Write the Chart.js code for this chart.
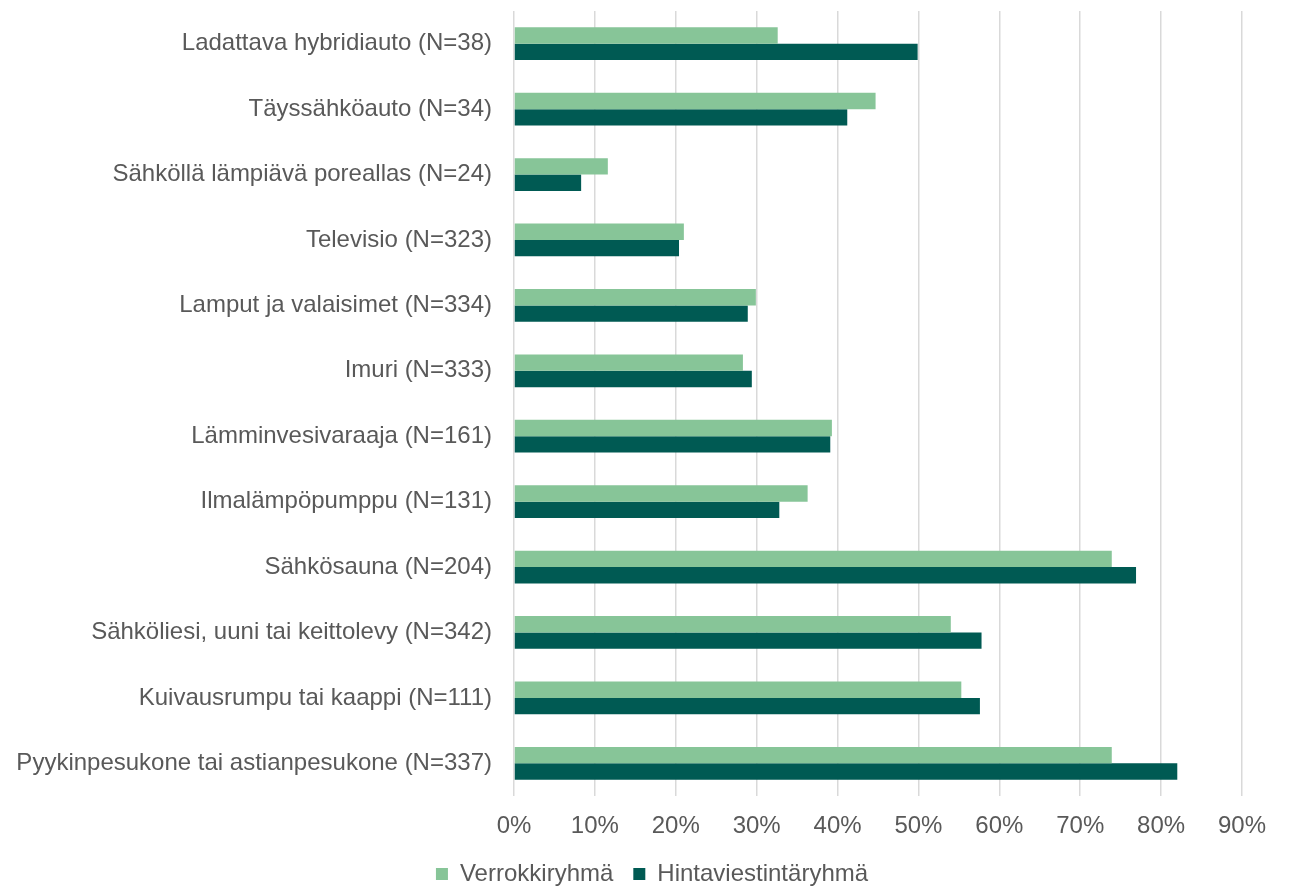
<!DOCTYPE html>
<html>
<head>
<meta charset="utf-8">
<script src="https://cdn.jsdelivr.net/npm/chart.js@4"></script>
<style>
  html, body { margin: 0; padding: 0; background: #ffffff; }
  #wrap { width: 1291px; height: 888px; }
</style>
</head>
<body>
<div id="wrap"><canvas id="c" width="1291" height="888"></canvas></div>
<script>
const categories = [
  "Ladattava hybridiauto (N=38)",
  "Täyssähköauto (N=34)",
  "Sähköllä lämpiävä poreallas (N=24)",
  "Televisio (N=323)",
  "Lamput ja valaisimet (N=334)",
  "Imuri (N=333)",
  "Lämminvesivaraaja (N=161)",
  "Ilmalämpöpumppu (N=131)",
  "Sähkösauna (N=204)",
  "Sähköliesi, uuni tai keittolevy (N=342)",
  "Kuivausrumpu tai kaappi (N=111)",
  "Pyykinpesukone tai astianpesukone (N=337)"
];
const seriesNames = ["Verrokkiryhmä", "Hintaviestintäryhmä"];
const verrokki = [32.6, 44.7, 11.6, 21.0, 29.9, 28.3, 39.3, 36.3, 73.9, 54.0, 55.3, 73.9];
const hinta    = [49.9, 41.2, 8.3, 20.4, 28.9, 29.4, 39.1, 32.8, 76.9, 57.8, 57.6, 82.0];
const xTicks = [0, 10, 20, 30, 40, 50, 60, 70, 80, 90];

const textColor = '#595959';
const fontFamily = '"Liberation Sans", Arial, Helvetica, sans-serif';

const legendShift = {
  id: 'legendShift',
  afterLayout(chart) {
    if (chart.legend) { chart.legend.left = 62; }
  }
};

new Chart(document.getElementById('c'), {
  type: 'bar',
  data: {
    labels: categories,
    datasets: [
      { label: seriesNames[0], data: verrokki, backgroundColor: '#87C598', borderWidth: 0 },
      { label: seriesNames[1], data: hinta, backgroundColor: '#005A53', borderWidth: 0 }
    ]
  },
  plugins: [legendShift],
  options: {
    indexAxis: 'y',
    responsive: false,
    animation: false,
    devicePixelRatio: 1,
    layout: { padding: { top: 11, right: 49, bottom: -8, left: 0 } },
    datasets: { bar: { categoryPercentage: 0.5, barPercentage: 1.0 } },
    scales: {
      x: {
        min: 0, max: 90,
        afterBuildTicks: (s) => { s.ticks = xTicks.map(v => ({ value: v })); },
        afterFit: (s) => { s.height = 46; },
        ticks: {
          color: textColor,
          font: { family: fontFamily, size: 24 },
          padding: 16,
          callback: (v) => v + '%'
        },
        grid: { color: '#D9D9D9', lineWidth: 1.5, drawTicks: false },
        border: { display: false }
      },
      y: {
        afterFit: (s) => { s.width = 514; s.paddingTop = 0; s.paddingBottom = 0; },
        ticks: {
          color: textColor,
          font: { family: fontFamily, size: 24 },
          padding: 22
        },
        grid: { display: false, drawTicks: false },
        border: { display: false }
      }
    },
    plugins: {
      tooltip: { enabled: false },
      legend: {
        position: 'bottom',
        labels: {
          color: textColor,
          font: { family: fontFamily, size: 24 },
          boxWidth: 12,
          boxHeight: 12,
          padding: 20
        }
      }
    }
  }
});
</script>
</body>
</html>
